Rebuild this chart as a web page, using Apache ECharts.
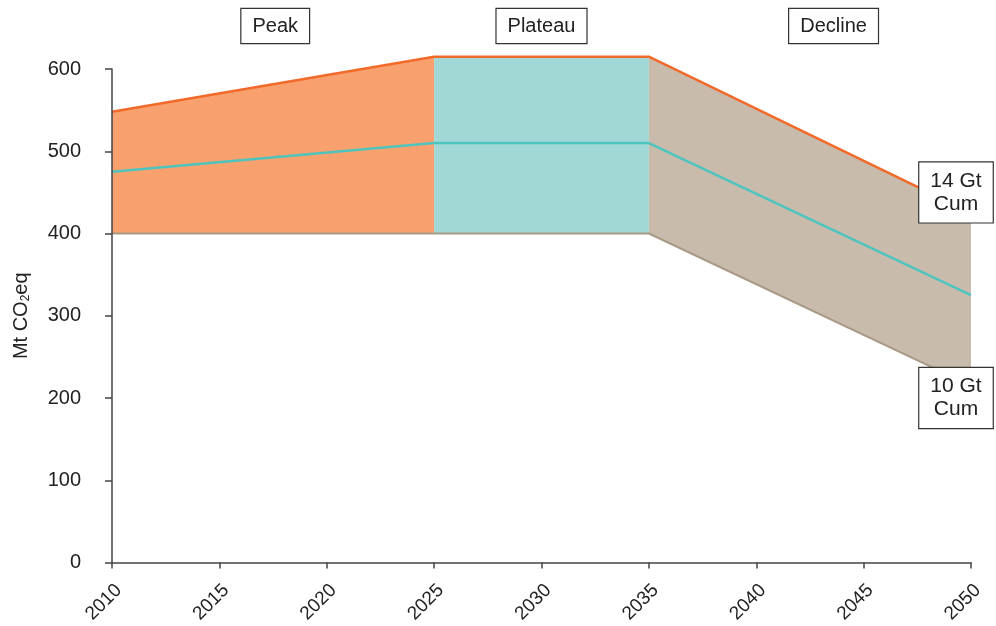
<!DOCTYPE html>
<html>
<head>
<meta charset="utf-8">
<script src="https://cdn.jsdelivr.net/npm/echarts@6/dist/echarts.min.js"></script>
<style>
  html, body { margin: 0; padding: 0; background: #fff; }
  #chart { width: 996px; height: 626px; }
</style>
</head>
<body>
<div id="chart"></div>
<script>
// Emission pathway: peak, plateau and decline phases (Mt CO2eq)
const years  = [2010, 2025, 2035, 2050];
const upper  = [548, 615, 615, 425];
const middle = [475, 510, 510, 325];
const lower  = [400, 400, 400, 215];

const phaseNames  = ['Peak', 'Plateau', 'Decline'];
const phaseColors = ['#F8A06E', '#A1D8D6', '#C8BBAB'];
const phaseLabelYears = [2017.6, 2030, 2043.6];

const endLabels = ['14 Gt\nCum', '10 Gt\nCum'];
const endLabelValues = [450, 200];

const xTicks = [2010, 2015, 2020, 2025, 2030, 2035, 2040, 2045, 2050];

const FONT = 'Liberation Sans, Arial, sans-serif';

// phase bands: one row per phase, [x0, x1, lower0, lower1, upper0, upper1]
const bandRows = phaseNames.map((_, i) => [
  years[i], years[i + 1], lower[i], lower[i + 1], upper[i], upper[i + 1]
]);

const pairs = arr => years.map((y, k) => [y, arr[k]]);

const series = [
  {
    type: 'custom', silent: true, clip: false, z: 1,
    data: bandRows,
    encode: { x: [0, 1], y: [2, 3, 4, 5] },
    renderItem: (params, api) => {
      const x0 = api.value(0), x1 = api.value(1);
      const pts = [
        api.coord([x0, api.value(2)]),
        api.coord([x1, api.value(3)]),
        api.coord([x1, api.value(5)]),
        api.coord([x0, api.value(4)])
      ];
      return {
        type: 'polygon',
        shape: { points: pts },
        style: { fill: phaseColors[params.dataIndex], stroke: null }
      };
    }
  },
  {
    type: 'line', data: pairs(lower), symbol: 'none', silent: true, clip: false,
    lineStyle: { color: '#A89A86', width: 2 }, z: 3
  },
  {
    type: 'line', data: pairs(middle), symbol: 'none', silent: true, clip: false,
    lineStyle: { color: '#4EC4BF', width: 2.5 }, z: 4
  },
  {
    type: 'line', data: pairs(upper), symbol: 'none', silent: true, clip: false,
    lineStyle: { color: '#F26A2A', width: 2.5 }, z: 5
  }
];

const chart = echarts.init(document.getElementById('chart'), null, { renderer: 'canvas' });
chart.setOption({
  animation: false,
  backgroundColor: '#fff',
  grid: { left: 112, right: 25, top: 69, bottom: 62, containLabel: false },
  xAxis: {
    type: 'value', min: xTicks[0], max: xTicks[xTicks.length - 1], interval: 5,
    axisLine: { show: true, onZero: false, lineStyle: { color: '#444', width: 1.5 } },
    axisTick: { show: true, inside: false, length: 6, lineStyle: { color: '#444', width: 1.5 } },
    splitLine: { show: false },
    axisLabel: {
      rotate: 45, margin: 18, verticalAlign: 'top', color: '#222', fontSize: 19, fontFamily: FONT,
      formatter: v => String(v)
    },
    z: 10
  },
  yAxis: {
    type: 'value', min: 0, max: 600, interval: 100,
    name: 'Mt CO{sub|2}eq', nameLocation: 'middle', nameGap: 80, nameRotate: 90,
    nameTextStyle: {
      color: '#222', fontSize: 20, fontFamily: FONT,
      rich: { sub: { fontSize: 12, verticalAlign: 'bottom', padding: [9, 0, 0, 0], color: '#222', fontFamily: FONT } }
    },
    axisLine: { show: true, lineStyle: { color: '#444', width: 1.5 } },
    axisTick: { show: true, inside: false, length: 7, lineStyle: { color: '#444', width: 1.5 } },
    splitLine: { show: false },
    axisLabel: { margin: 31, color: '#222', fontSize: 20, fontFamily: FONT },
    z: 10
  },
  series: series
});

// boxed annotations: phase names along the top, cumulative totals at the right end
const boxStyle = (text, size, pad) => ({
  text: text, fill: '#222', fontSize: size, fontFamily: FONT,
  backgroundColor: '#fff', borderColor: '#333', borderWidth: 1.2,
  padding: pad, align: 'center', verticalAlign: 'middle', lineHeight: 23
});
const graphics = [];
phaseNames.forEach((name, i) => {
  const px = chart.convertToPixel({ gridIndex: 0 }, [phaseLabelYears[i], 0]);
  graphics.push({ type: 'text', x: px[0], y: 26, z: 100, style: boxStyle(name, 20, [6, 11, 5, 11]) });
});
endLabels.forEach((txt, i) => {
  const px = chart.convertToPixel({ gridIndex: 0 }, [2050, endLabelValues[i]]);
  graphics.push({
    type: 'text', x: px[0] - 15, y: px[1], z: 100,
    style: boxStyle(txt, 21, [8, 11, 6, 11])
  });
});
chart.setOption({ graphic: graphics });
</script>
</body>
</html>
